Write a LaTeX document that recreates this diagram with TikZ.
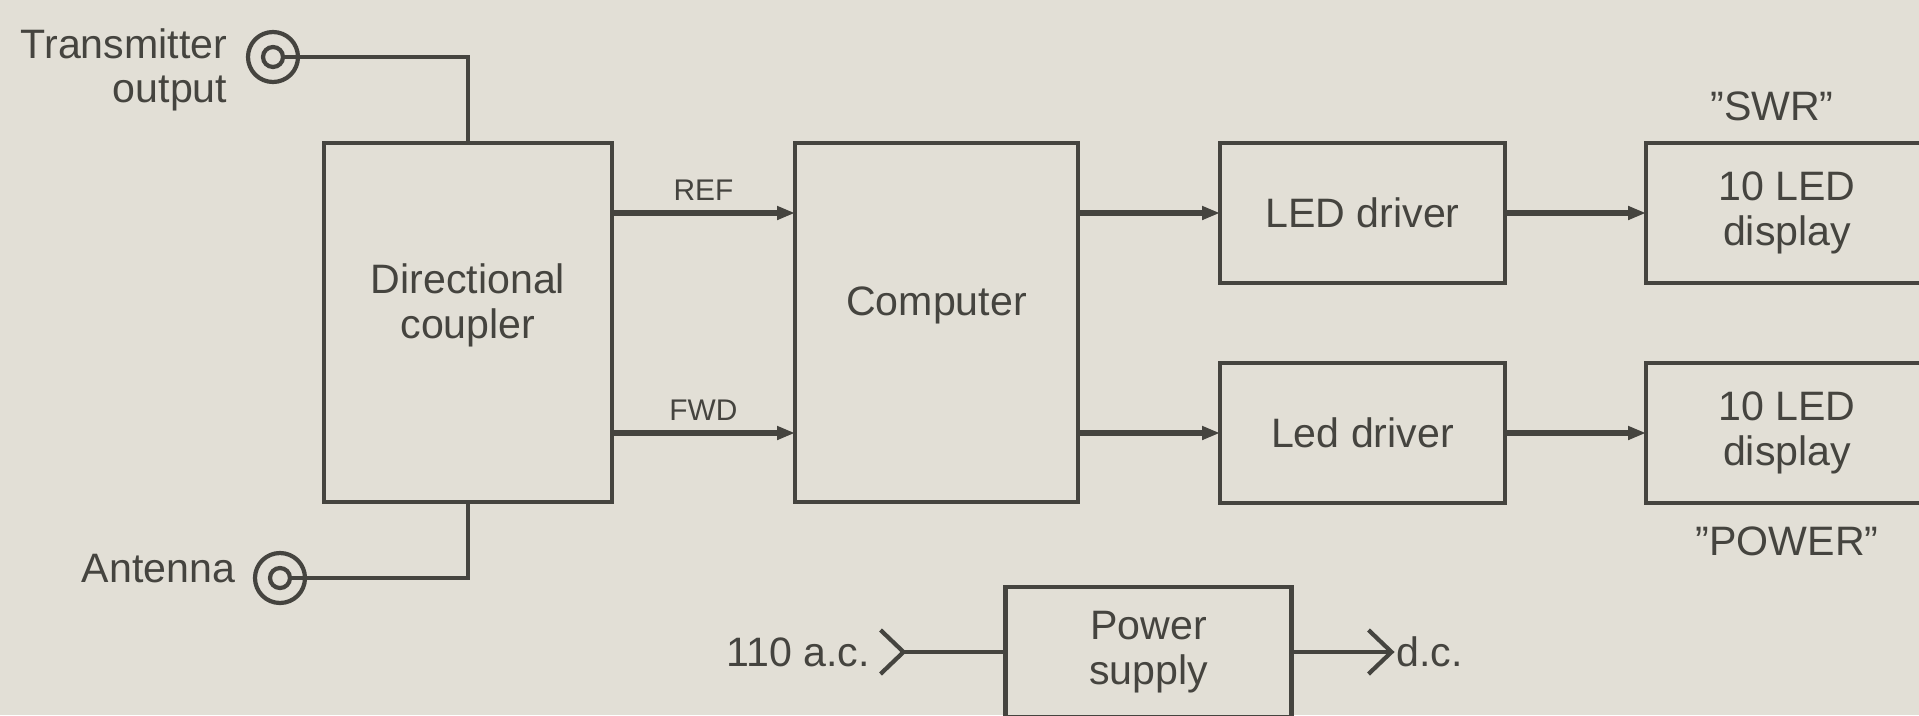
\documentclass[tikz,border=0pt]{standalone}
\usepackage{fontspec}
\setmainfont{Liberation Sans}
\usetikzlibrary{arrows.meta, positioning}
\definecolor{paperbg}{HTML}{E2DFD6}
\definecolor{inkgray}{HTML}{45443F}
\newcommand{\diagfont}{\fontsize{11.7}{12.6}\selectfont}
\newcommand{\sigfont}{\fontsize{8.5}{10}\selectfont}
\tikzset{
	block/.style={rectangle, draw=inkgray, line width=1.2pt, minimum width=2.85cm, minimum height=1.4cm, align=center, outer sep=0pt, text=inkgray, font=\diagfont},
	tallbox/.style={block, minimum height=3.59cm, text depth=4.3mm},
	lbl/.style={inner sep=0pt, text=inkgray, font=\diagfont},
	siglbl/.style={inner sep=0pt, text=inkgray, font=\sigfont},
	coaxring/.style={circle, draw=inkgray, line width=1.2pt, minimum size=5mm, inner sep=0pt},
	coaxpin/.style={circle, draw=inkgray, line width=1.2pt, minimum size=2mm, inner sep=0pt},
	wire/.style={draw=inkgray, line width=1.2pt},
	arrow/.style={draw=inkgray, line width=1.5pt, -{Triangle[length=1.8mm, width=1.3mm]}}
}

\begin{document}
\begin{tikzpicture}[node distance=1.4cm and 1.4cm]
	\useasboundingbox (0,0) rectangle (19.19,7.15);
	\fill[paperbg] (0,0) rectangle (19.19,7.15);
	\clip (0,0) rectangle (19.19,7.15);
	
	% Main blocks
	\node (coupler) [tallbox, minimum width=2.88cm] at (4.68,3.925) {Directional\\coupler};
	\node (computer) [tallbox, minimum width=2.83cm, right=1.83cm of coupler] {Computer};
	\node (ledtop) [block, right=1.42cm of computer.north east, anchor=north west] {LED driver};
	\node (ledbot) [block, below=0.80cm of ledtop] {Led driver};
	\node (disptop) [block, minimum width=2.82cm, right=1.41cm of ledtop] {10 LED\\display};
	\node (dispbot) [block, minimum width=2.82cm, right=1.41cm of ledbot] {10 LED\\display};
	\node (power) [block, minimum width=2.86cm, minimum height=1.30cm, below=0.85cm of computer, xshift=2.12cm] {Power\\supply};
	
	% Coax connectors
	\node (txring) [coaxring] at (2.73,6.58) {};
	\node (txpin) [coaxpin] at (txring) {};
	\node (antring) [coaxring] at (2.80,1.37) {};
	\node (antpin) [coaxpin] at (antring) {};
	
	% Labels
	\node (txlbl) [lbl, align=right, anchor=east] at ([xshift=-1.8mm, yshift=-1.3mm]txring.west) {Transmitter\\output};
	\node (antlbl) [lbl, anchor=east] at ([xshift=-1.7mm, yshift=0.9mm]antring.west) {Antenna};
	\node (swr) [lbl, above=2.1mm of disptop, xshift=-1.5mm] {''SWR''};
	\node (pwr) [lbl, below=2.3mm of dispbot] {''POWER''};
	
	% Signal paths
	\draw [arrow] (coupler.east |- ledtop) -- node [siglbl, above=1mm] {REF} (computer.west |- ledtop);
	\draw [arrow] (coupler.east |- ledbot) -- node [siglbl, above=1mm] {FWD} (computer.west |- ledbot);
	\draw [arrow] (computer.east |- ledtop) -- (ledtop);
	\draw [arrow] (computer.east |- ledbot) -- (ledbot);
	\draw [arrow] (ledtop) -- (disptop);
	\draw [arrow] (ledbot) -- (dispbot);
	\draw [wire] (txpin) -| (coupler);
	\draw [wire] (antpin) -| (coupler);
	
	% Power supply
	\coordinate (acin) at ([xshift=-1.02cm]power.west);
	\coordinate (dcout) at ([xshift=1.0cm]power.east);
	\draw [wire] (acin) -- (power);
	\draw [wire] (power) -- (dcout);
	\draw [wire] ([xshift=-2.3mm, yshift=2.2mm]acin) -- (acin) -- ([xshift=-2.3mm, yshift=-2.2mm]acin);
	\draw [wire] ([xshift=-2.3mm, yshift=2.2mm]dcout) -- (dcout) -- ([xshift=-2.3mm, yshift=-2.2mm]dcout);
	\node (aclbl) [lbl, anchor=east] at ([xshift=-3.3mm]acin) {110 a.c.};
	\node (dclbl) [lbl, anchor=west] at ([xshift=0.4mm]dcout) {d.c.};
\end{tikzpicture}
\end{document}
